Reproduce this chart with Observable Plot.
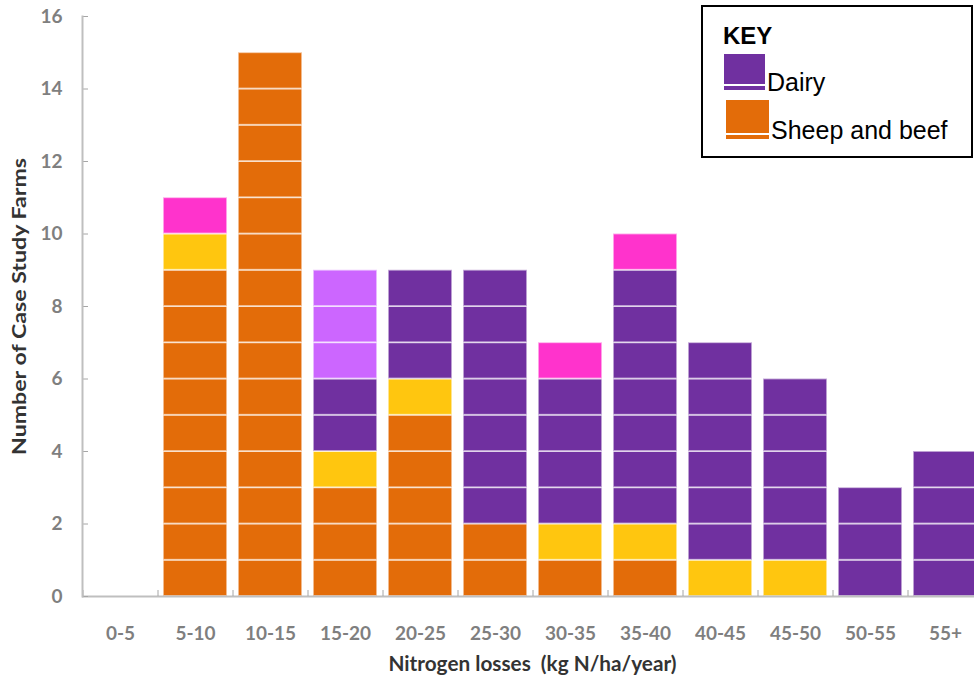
<!DOCTYPE html>
<html>
<head>
<meta charset="utf-8">
<script src="https://cdn.jsdelivr.net/npm/d3@7"></script>
<script src="https://cdn.jsdelivr.net/npm/@observablehq/plot@0.6"></script>
<style>
  html, body { margin: 0; padding: 0; background: #fff; overflow: hidden; width: 974px; height: 677px; }
  #chart { position: absolute; left: 0; top: 0; width: 982px; }
  #chart svg { max-width: none !important; }
  #key {
    position: absolute; left: 701px; top: 5px; width: 268px; height: 149px;
    border: 2px solid #000; background: #fff;
    font-family: "Liberation Sans", Arial, sans-serif; color: #000;
  }
  #key .title { position: absolute; left: 20px; top: 15px; font-weight: bold; font-size: 24px; }
  #key .sw { position: absolute; }
  #key .lab { position: absolute; font-size: 25px; white-space: nowrap; }
</style>
</head>
<body>
<div id="chart"></div>
<div id="key"></div>
<script>
// ---- data ----
const categories = ["0-5","5-10","10-15","15-20","20-25","25-30","30-35","35-40","40-45","45-50","50-55","55+"];
// stacked from bottom to top in this order
const sheepBeef   = [0, 9, 15, 3, 5, 2, 1, 1, 0, 0, 0, 0];
const yellowGroup = [0, 1, 0, 1, 1, 0, 1, 1, 1, 1, 0, 0];
const dairy       = [0, 0, 0, 2, 3, 7, 4, 7, 6, 5, 3, 4];
const lilacGroup  = [0, 0, 0, 3, 0, 0, 0, 0, 0, 0, 0, 0];
const pinkGroup   = [0, 1, 0, 0, 0, 0, 1, 1, 0, 0, 0, 0];
const seriesNames  = ["Sheep and beef", "Yellow", "Dairy", "Lilac", "Pink"];
const seriesColors = ["#E36C09", "#FFC60F", "#7030A0", "#CC66FF", "#FF33CC"];
const yTicks = [0, 2, 4, 6, 8, 10, 12, 14, 16];
const keyEntries = ["Dairy", "Sheep and beef"];
const yTitle = "Number of Case Study Farms";
const xTitle = "Nitrogen losses  (kg N/ha/year)";

// one row per farm (unit block)
const seriesValues = [sheepBeef, yellowGroup, dairy, lilacGroup, pinkGroup];
const rows = [];
categories.forEach((c, i) => {
  seriesValues.forEach((vals, s) => {
    for (let k = 0; k < vals[i]; k++) rows.push({category: c, series: seriesNames[s]});
  });
});

const font = "Lato, 'Open Sans', sans-serif";

function build(halfStep) {
  return Plot.plot({
    width: 982, height: 677,
    marginLeft: 82, marginRight: 0, marginTop: 16, marginBottom: 81,
    style: {fontFamily: font, background: "white"},
    x: {domain: categories, paddingInner: 0.15, paddingOuter: 0.075, label: null},
    y: {domain: [0, 16], label: null},
    color: {domain: seriesNames, range: seriesColors},
    marks: [
      Plot.rectY(rows, {x: "category", y: () => 1, fill: "series",
        stroke: "white", strokeOpacity: 0.6, strokeWidth: 1.8}),
      Plot.ruleY([0], {stroke: "#bfbfbf", strokeWidth: 2}),
      Plot.axisY({ticks: yTicks, tickSize: 6, dx: 6, fill: "none", stroke: "#a6a6a6", label: null}),
      Plot.axisY({ticks: yTicks, tickSize: 0, tickPadding: 20, fontSize: 19, fontWeight: "bold", fill: "#7f7f7f", label: null}),
      Plot.axisX({tickSize: 6, dy: -6, dx: -halfStep, fill: "none", stroke: "#a6a6a6", label: null}),
      Plot.axisX({tickSize: 0, tickPadding: 30, fontSize: 19, fontWeight: "bold", fill: "#7f7f7f", label: null}),
      Plot.frame({anchor: "left", stroke: "#bfbfbf", strokeWidth: 2}),
      Plot.text([yTitle], {frameAnchor: "left", textAnchor: "middle", rotate: -90, dx: -63, fontSize: 19, fontWeight: "bold", fill: "#333", className: "ytitle"}),
      Plot.text([xTitle], {frameAnchor: "bottom", textAnchor: "middle", dy: 74, fontSize: 20, fontWeight: "bold", fill: "#333", className: "xtitle"})
    ]
  });
}

let plot = build(0);
const xs = plot.scale("x");
const step = xs.step ?? (xs.bandwidth / (1 - 0.15));
plot = build(step / 2);
document.getElementById("chart").appendChild(plot);
// stretch titles to the reference's lengths (text stays real text)
const yt = plot.querySelector(".ytitle text");
if (yt) { yt.setAttribute("textLength", 297); yt.setAttribute("lengthAdjust", "spacingAndGlyphs"); }
const xt = plot.querySelector(".xtitle text");
if (xt) { xt.setAttribute("textLength", 288); xt.setAttribute("lengthAdjust", "spacingAndGlyphs"); }

// key (legend)
const key = document.getElementById("key");
const t = document.createElement("div");
t.className = "title"; t.textContent = "KEY"; key.appendChild(t);
const swPos = [{l: 21, t: 47, w: 41, h: 36, lab: [64, 61]}, {l: 23, t: 93, w: 43, h: 39, lab: [68, 109]}];
keyEntries.forEach((name, i) => {
  const col = seriesColors[seriesNames.indexOf(name)];
  const p = swPos[i];
  const sw = document.createElement("div");
  sw.className = "sw";
  sw.style.cssText = `left:${p.l}px;top:${p.t}px;width:${p.w}px;height:${p.h}px;background:linear-gradient(to bottom, ${col} 0, ${col} ${p.h-6}px, rgba(255,255,255,0.6) ${p.h-6}px, rgba(255,255,255,0.6) ${p.h-4}px, ${col} ${p.h-4}px)`;
  key.appendChild(sw);
  const lb = document.createElement("div");
  lb.className = "lab"; lb.textContent = name;
  lb.style.left = p.lab[0] + "px"; lb.style.top = p.lab[1] + "px";
  key.appendChild(lb);
});
</script>
</body>
</html>
